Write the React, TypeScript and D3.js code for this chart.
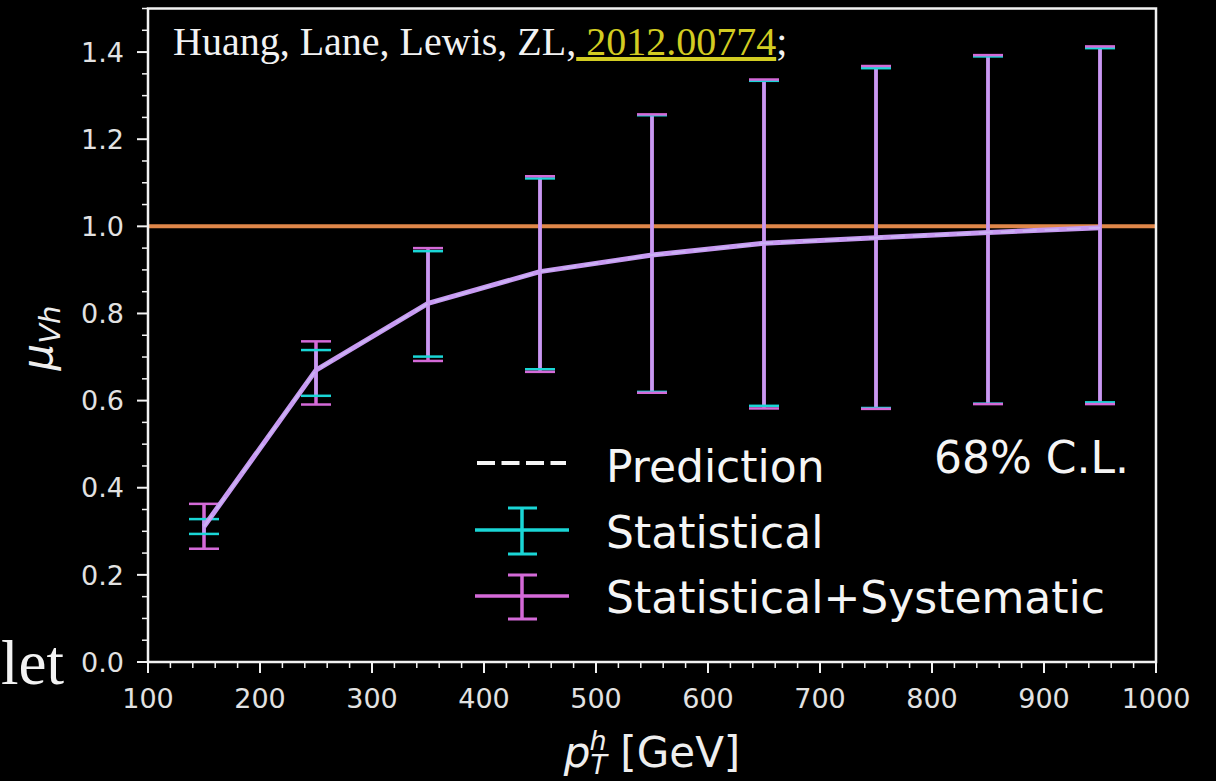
import React from "react";
import * as d3 from "d3";

const ptBins = [150, 250, 350, 450, 550, 650, 750, 850, 950];
const central = [0.311, 0.67, 0.823, 0.896, 0.934, 0.961, 0.974, 0.986, 0.997];
const statLow = [0.294, 0.611, 0.701, 0.672, 0.62, 0.588, 0.583, 0.593, 0.596];
const statHigh = [0.328, 0.716, 0.943, 1.11, 1.255, 1.334, 1.363, 1.39, 1.409];
const totLow = [0.26, 0.591, 0.691, 0.666, 0.618, 0.582, 0.581, 0.592, 0.592];
const totHigh = [0.363, 0.736, 0.95, 1.115, 1.257, 1.337, 1.368, 1.393, 1.413];
const xMajorTicks = [100, 200, 300, 400, 500, 600, 700, 800, 900, 1000];
const yMajorTicks = [0, 0.2, 0.4, 0.6, 0.8, 1.0, 1.2, 1.4];
const refLine = 1.0;
const legendLabels = ["Prediction", "Statistical", "Statistical+Systematic"];

const CYAN = "#1ad6d6";
const MAGENTA = "#d46ad8";
const LAVENDER = "#c79af2";
const ORANGE = "#e0874a";
const TICK = "#e2e2e2";

export default function App() {
  const x = d3.scaleLinear().domain([100, 1000]).range([148, 1156]);
  const y = d3.scaleLinear().domain([0, 1.5]).range([662, 8.5]);
  const xMinor = d3.range(100, 1000.1, 20).filter((v) => Math.round(v) % 100 !== 0);
  const yMinor = d3.range(0, 1.5001, 0.05).filter((v) => Math.abs(v * 5 - Math.round(v * 5)) > 1e-6);
  const line = d3
    .line<number>()
    .x((_, i) => x(ptBins[i]))
    .y((d) => y(d));
  const capW = 15;
  const font = "'DejaVu Sans', sans-serif";

  return (
    <div style={{ position: "fixed", left: 0, top: 0, width: 1216, height: 781, background: "#000" }}>
      <svg width={1216} height={781} style={{ display: "block" }}>
        <rect x={0} y={0} width={1216} height={781} fill="#000" />
        {/* reference line */}
        <line x1={x(100)} x2={x(1000)} y1={y(refLine)} y2={y(refLine)} stroke={ORANGE} strokeWidth={4} />
        {/* error bar stems */}
        {ptBins.map((b, i) => (
          <g key={"stem" + b}>
            <line x1={x(b)} x2={x(b)} y1={y(totLow[i])} y2={y(totHigh[i])} stroke={MAGENTA} strokeWidth={3.5} />
            <line x1={x(b)} x2={x(b)} y1={y(statLow[i])} y2={y(statHigh[i])} stroke={LAVENDER} strokeWidth={3.5} />
          </g>
        ))}
        {/* statistical caps */}
        {ptBins.map((b, i) => (
          <g key={"stat" + b}>
            <line x1={x(b) - capW} x2={x(b) + capW} y1={y(statLow[i])} y2={y(statLow[i])} stroke={CYAN} strokeWidth={2.5} />
            <line x1={x(b) - capW} x2={x(b) + capW} y1={y(statHigh[i])} y2={y(statHigh[i])} stroke={CYAN} strokeWidth={2.5} />
          </g>
        ))}
        {/* total caps */}
        {ptBins.map((b, i) => (
          <g key={"tot" + b}>
            <line x1={x(b) - capW} x2={x(b) + capW} y1={y(totLow[i])} y2={y(totLow[i])} stroke={MAGENTA} strokeWidth={2.5} />
            <line x1={x(b) - capW} x2={x(b) + capW} y1={y(totHigh[i])} y2={y(totHigh[i])} stroke={MAGENTA} strokeWidth={2.5} />
          </g>
        ))}
        {/* central line */}
        <path d={line(central) || ""} fill="none" stroke={LAVENDER} strokeWidth={5} strokeLinejoin="round" />
        <path d={line(central) || ""} fill="none" stroke="#dff" strokeOpacity={0.25} strokeWidth={2} strokeDasharray="14 8" />

        {/* frame */}
        <rect x={x(100)} y={y(1.5)} width={x(1000) - x(100)} height={y(0) - y(1.5)} fill="none" stroke="#f2f2f2" strokeWidth={2.5} />
        {/* x ticks */}
        {xMajorTicks.map((t) => (
          <g key={"xt" + t}>
            <line x1={x(t)} x2={x(t)} y1={y(0)} y2={y(0) + 11} stroke="#f2f2f2" strokeWidth={2} />
            <text x={x(t)} y={708} textAnchor="middle" fontFamily={font} fontSize={27} fill={TICK}>
              {t}
            </text>
          </g>
        ))}
        {xMinor.map((t) => (
          <line key={"xm" + t} x1={x(t)} x2={x(t)} y1={y(0)} y2={y(0) + 6} stroke="#f2f2f2" strokeWidth={1.5} />
        ))}
        {/* y ticks */}
        {yMajorTicks.map((t) => (
          <g key={"yt" + t}>
            <line x1={x(100) - 11} x2={x(100)} y1={y(t)} y2={y(t)} stroke="#f2f2f2" strokeWidth={2} />
            <text x={124} y={y(t)} dy="0.36em" textAnchor="end" fontFamily={font} fontSize={27} fill={TICK}>
              {t.toFixed(1)}
            </text>
          </g>
        ))}
        {yMinor.map((t) => (
          <line key={"ym" + t} x1={x(100) - 6} x2={x(100)} y1={y(t)} y2={y(t)} stroke="#f2f2f2" strokeWidth={1.5} />
        ))}

        {/* axis labels */}
        <text x={652} y={767} textAnchor="middle" fontFamily={font} fontSize={42} fill="#eee">
          <tspan fontStyle="italic">p</tspan>
          <tspan fontStyle="italic" fontSize={27} dx={-1} dy={-17}>h</tspan>
          <tspan fontStyle="italic" fontSize={27} dx={-16} dy={24}>T</tspan>
          <tspan dy={-7}> [GeV]</tspan>
        </text>
        <text transform="translate(52,338) rotate(-90)" textAnchor="middle" fontFamily={font} fontSize={42} fill="#eee">
          <tspan fontStyle="italic">μ</tspan>
          <tspan fontStyle="italic" fontSize={29} dy={8}>Vh</tspan>
        </text>

        {/* annotation */}
        <text x={173} y={55} fontFamily="'Liberation Serif', serif" fontSize={40} fill="#f2f2f2">
          Huang, Lane, Lewis, ZL,
          <tspan fill="#d2cc22" textDecoration="underline" style={{ whiteSpace: "pre" }}>{" 2012.00774"}</tspan>
          ;
        </text>
        <text x={1} y={684} fontFamily="'Liberation Serif', serif" fontSize={63} fill="#f2f2f2">
          let
        </text>

        {/* legend */}
        <line x1={477} x2={566} y1={463} y2={463} stroke="#f5f5f5" strokeWidth={4} strokeDasharray="18 6.5" />
        <g>
          <line x1={475} x2={569} y1={530} y2={530} stroke={CYAN} strokeWidth={3.5} />
          <line x1={522} x2={522} y1={508} y2={554} stroke={CYAN} strokeWidth={3.5} />
          <line x1={508} x2={537} y1={508} y2={508} stroke={CYAN} strokeWidth={3} />
          <line x1={508} x2={537} y1={554} y2={554} stroke={CYAN} strokeWidth={3} />
        </g>
        <g>
          <line x1={475} x2={569} y1={596} y2={596} stroke={MAGENTA} strokeWidth={3.5} />
          <line x1={522} x2={522} y1={575} y2={619} stroke={MAGENTA} strokeWidth={3.5} />
          <line x1={508} x2={537} y1={575} y2={575} stroke={MAGENTA} strokeWidth={3} />
          <line x1={508} x2={537} y1={619} y2={619} stroke={MAGENTA} strokeWidth={3} />
        </g>
        {legendLabels.map((l, i) => (
          <text key={l} x={606} y={[482, 548, 613][i]} fontFamily={font} fontSize={44} fill="#f5f5f5">
            {l}
          </text>
        ))}
        <text x={1129} y={473} textAnchor="end" fontFamily={font} fontSize={44} fill="#f5f5f5">
          68% C.L.
        </text>
      </svg>
    </div>
  );
}
